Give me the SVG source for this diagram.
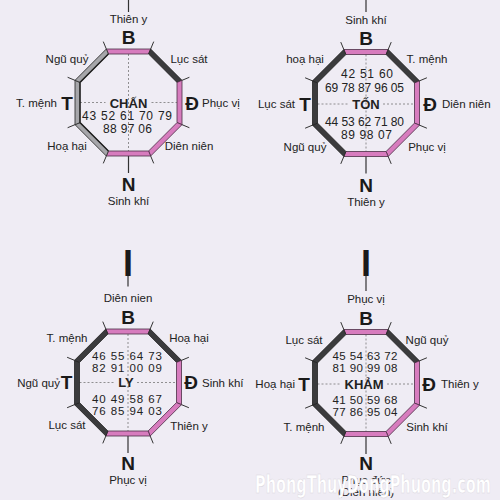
<svg xmlns="http://www.w3.org/2000/svg" xmlns:xlink="http://www.w3.org/1999/xlink" width="500" height="500" viewBox="0 0 500 500">
<style>
.bg{fill:#efecf4}
.pink{fill:#d77cbe;stroke:#4a2d45;stroke-width:0.8}
.blk{fill:#3b3b3d;stroke:#222;stroke-width:0.8}
.gray{fill:#a6a6aa;stroke:#333;stroke-width:0.9}
.tick{stroke:#333;stroke-width:1;fill:none}
.axis{stroke:#777;stroke-width:0.8;stroke-dasharray:2,2;fill:none}
.pole{stroke:#333;stroke-width:1.2;fill:none}
text{font-family:"Liberation Sans",Arial,sans-serif;fill:#222;text-anchor:middle;dominant-baseline:central}
.lbl{font-size:11.5px}
.end{text-anchor:end}
.start{text-anchor:start}
.dir{font-size:19px;font-weight:bold;fill:#1a1a1a}
.num{font-size:12px}
.num2{font-size:11.5px}
.name{font-size:13px;font-weight:bold}
.big{font-size:36px;font-weight:bold;fill:#1a1a1a}
.wm{font-size:24px;font-weight:bold;fill:#ffffff;stroke:#d8d4dc;stroke-width:0.5;font-family:"DejaVu Sans","Liberation Sans",sans-serif}
</style>
<defs>
<path id="eN" d="M-22.16,-53.5 L22.16,-53.5 L20.09,-48.5 L-20.09,-48.5 Z"/>
<path id="eNE" d="M22.16,-53.5 L53.5,-22.16 L48.5,-20.09 L20.09,-48.5 Z"/>
<path id="eE" d="M53.5,-22.16 L53.5,22.16 L48.5,20.09 L48.5,-20.09 Z"/>
<path id="eSE" d="M53.5,22.16 L22.16,53.5 L20.09,48.5 L48.5,20.09 Z"/>
<path id="eS" d="M22.16,53.5 L-22.16,53.5 L-20.09,48.5 L20.09,48.5 Z"/>
<path id="eSW" d="M-22.16,53.5 L-53.5,22.16 L-48.5,20.09 L-20.09,48.5 Z"/>
<path id="eW" d="M-53.5,22.16 L-53.5,-22.16 L-48.5,-20.09 L-48.5,20.09 Z"/>
<path id="eNW" d="M-53.5,-22.16 L-22.16,-53.5 L-20.09,-48.5 L-48.5,-20.09 Z"/>
<path id="ticks" d="M22.16,-53.5 L25.22,-60.89 M-22.16,-53.5 L-25.22,-60.89 M53.5,-22.16 L60.89,-25.22 M53.5,22.16 L60.89,25.22 M22.16,53.5 L25.22,60.89 M-22.16,53.5 L-25.22,60.89 M-53.5,22.16 L-60.89,25.22 M-53.5,-22.16 L-60.89,-25.22"/>
</defs>
<rect class="bg" x="0" y="0" width="500" height="500"/>

<g id="chan" transform="translate(128.5,102.5)">
  <g id="chan-axes">
    <line class="axis" x1="0" y1="-48.5" x2="0" y2="48.5"/>
    <line class="axis" x1="-48.5" y1="0" x2="-23" y2="0"/>
    <line class="axis" x1="23" y1="0" x2="48.5" y2="0"/>
    <line class="pole" x1="0" y1="-102.5" x2="0" y2="-90.5"/>
    <line class="pole" x1="0" y1="52.5" x2="0" y2="70.5"/>
  </g>
  <use xlink:href="#eN" class="pink"/>
  <use xlink:href="#eNE" class="blk"/>
  <use xlink:href="#eE" class="pink"/>
  <use xlink:href="#eSE" class="pink"/>
  <use xlink:href="#eS" class="pink"/>
  <use xlink:href="#eSW" class="gray"/>
  <use xlink:href="#eW" class="gray"/>
  <use xlink:href="#eNW" class="gray"/>
  <path class="tick" d="M-20.09,48.5 L-48.5,20.09 L-48.5,-20.09 L-20.09,-48.5" style="stroke-width:1.4;stroke:#222"/>
  <use xlink:href="#ticks" class="tick"/>
  <text class="lbl" x="0" y="-83.5">Thiên y</text>
  <text class="dir" x="0" y="-65.5">B</text>
  <text class="lbl" x="-61.5" y="-43.5">Ngũ quỷ</text>
  <text class="lbl" x="60.5" y="-43.5">Lục sát</text>
  <text class="lbl end" x="-71.5" y="0.5">T. mệnh</text>
  <text class="dir" x="-61.5" y="0.5">T</text>
  <text class="dir" x="63.5" y="0.5">Đ</text>
  <text class="lbl start" x="73.5" y="0.5">Phục vị</text>
  <text class="lbl" x="-61.5" y="43.5">Hoạ hại</text>
  <text class="lbl" x="60.5" y="43.5">Diên niên</text>
  <text class="dir" x="0" y="81.5">N</text>
  <text class="lbl" x="0" y="98.5">Sinh khí</text>
  <text class="name" x="0" y="0.5">CHẤN</text>
  <text class="num" x="-1.5" y="13.5" textLength="90">43 52 61 70 79</text>
  <text class="num" x="-1" y="26" textLength="49">88 97 06</text>
</g>

<g id="ton" transform="translate(366,103)">
  <g id="ton-axes">
    <line class="axis" x1="0" y1="-48.5" x2="0" y2="48.5"/>
    <line class="axis" x1="-48.5" y1="1" x2="-17" y2="1"/>
    <line class="axis" x1="17" y1="1" x2="48.5" y2="1"/>
    <line class="pole" x1="0" y1="-103" x2="0" y2="-91"/>
    <line class="pole" x1="0" y1="52.5" x2="0" y2="70.5"/>
  </g>
  <use xlink:href="#eN" class="pink"/>
  <use xlink:href="#eNE" class="blk"/>
  <use xlink:href="#eE" class="pink"/>
  <use xlink:href="#eSE" class="pink"/>
  <use xlink:href="#eS" class="pink"/>
  <use xlink:href="#eSW" class="blk"/>
  <use xlink:href="#eW" class="blk"/>
  <use xlink:href="#eNW" class="blk"/>
  <use xlink:href="#ticks" class="tick"/>
  <text class="lbl" x="0" y="-83">Sinh khí</text>
  <text class="dir" x="0" y="-65">B</text>
  <text class="lbl" x="-61" y="-44">hoạ hại</text>
  <text class="lbl" x="61" y="-44">T. mệnh</text>
  <text class="lbl end" x="-71" y="1">Lục sát</text>
  <text class="dir" x="-61" y="1">T</text>
  <text class="dir" x="64" y="1">Đ</text>
  <text class="lbl start" x="76" y="1">Diên niên</text>
  <text class="lbl" x="-61" y="44">Ngũ quỷ</text>
  <text class="lbl" x="61" y="44">Phục vị</text>
  <text class="dir" x="0" y="82">N</text>
  <text class="lbl" x="0" y="99">Thiên y</text>
  <text class="num" x="1" y="-29" textLength="52">42 51 60</text>
  <text class="num" x="-1.5" y="-15" textLength="79">69 78 87 96 05</text>
  <text class="name" x="0" y="1">TỐN</text>
  <text class="num" x="-1.5" y="19" textLength="79">44 53 62 71 80</text>
  <text class="num" x="0.5" y="32" textLength="51">89 98 07</text>
</g>

<g id="ly" transform="translate(128,382.5)">
  <g id="ly-axes">
    <line class="axis" x1="0" y1="-48.5" x2="0" y2="48.5"/>
    <line class="axis" x1="-48.5" y1="0" x2="-13" y2="0"/>
    <line class="axis" x1="9" y1="0" x2="48.5" y2="0"/>
    <line class="pole" x1="0" y1="-108" x2="0" y2="-96"/>
    <line class="pole" x1="0" y1="52.5" x2="0" y2="70.5"/>
  </g>
  <use xlink:href="#eN" class="pink"/>
  <use xlink:href="#eNE" class="blk"/>
  <use xlink:href="#eE" class="pink"/>
  <use xlink:href="#eSE" class="pink"/>
  <use xlink:href="#eS" class="pink"/>
  <use xlink:href="#eSW" class="blk"/>
  <use xlink:href="#eW" class="blk"/>
  <use xlink:href="#eNW" class="blk"/>
  <use xlink:href="#ticks" class="tick"/>
  <text class="big" x="0" y="-119">I</text>
  <text class="lbl" x="0" y="-84.5">Diên nien</text>
  <text class="dir" x="0" y="-65.5">B</text>
  <text class="lbl" x="-61" y="-44.5">T. mệnh</text>
  <text class="lbl" x="61" y="-44.5">Hoạ hại</text>
  <text class="lbl end" x="-68" y="0">Ngũ quỷ</text>
  <text class="dir" x="-61.5" y="0">T</text>
  <text class="dir" x="63" y="0">Đ</text>
  <text class="lbl start" x="74" y="0">Sinh khí</text>
  <text class="lbl" x="-61" y="42.5">Lục sát</text>
  <text class="lbl" x="61" y="43.5">Thiên y</text>
  <text class="dir" x="0" y="80.5">N</text>
  <text class="lbl" x="0" y="97.5">Phục vị</text>
  <text class="num2" x="-1" y="-26.5" textLength="70">46 55 64 73</text>
  <text class="num2" x="-1" y="-15" textLength="70">82 91 00 09</text>
  <text class="name" x="-2" y="0">LY</text>
  <text class="num2" x="-1" y="16.5" textLength="70">40 49 58 67</text>
  <text class="num2" x="-1" y="28.5" textLength="70">76 85 94 03</text>
</g>

<g id="kham" transform="translate(366,383)">
  <g id="kham-axes">
    <line class="axis" x1="0" y1="-48.5" x2="0" y2="48.5"/>
    <line class="axis" x1="-48.5" y1="1" x2="-25" y2="1"/>
    <line class="axis" x1="21" y1="1" x2="48.5" y2="1"/>
    <line class="pole" x1="0" y1="-107" x2="0" y2="-92"/>
    <line class="pole" x1="0" y1="53" x2="0" y2="71"/>
  </g>
  <use xlink:href="#eN" class="pink"/>
  <use xlink:href="#eNE" class="blk"/>
  <use xlink:href="#eE" class="pink"/>
  <use xlink:href="#eSE" class="pink"/>
  <use xlink:href="#eS" class="pink"/>
  <use xlink:href="#eSW" class="blk"/>
  <use xlink:href="#eW" class="blk"/>
  <use xlink:href="#eNW" class="blk"/>
  <use xlink:href="#ticks" class="tick"/>
  <text class="big" x="0" y="-120">I</text>
  <text class="lbl" x="0" y="-84">Phục vị</text>
  <text class="dir" x="0" y="-65">B</text>
  <text class="lbl" x="-62" y="-43">Lục sát</text>
  <text class="lbl" x="61" y="-43">Ngũ quỷ</text>
  <text class="lbl end" x="-71" y="1">Hoạ hại</text>
  <text class="dir" x="-62" y="1">T</text>
  <text class="dir" x="63" y="1">Đ</text>
  <text class="lbl start" x="75" y="1">Thiên y</text>
  <text class="lbl" x="-62" y="44">T. mệnh</text>
  <text class="lbl" x="61" y="44">Sinh khí</text>
  <text class="dir" x="0" y="80">N</text>
  <text class="lbl" x="0" y="97">Phục đức</text>
  <text class="lbl" x="0" y="109">(Diên niên)</text>
  <text class="num2" x="-1" y="-27" textLength="65">45 54 63 72</text>
  <text class="num2" x="-1" y="-15.5" textLength="65">81 90 99 08</text>
  <text class="name" x="-2" y="1">KHẢM</text>
  <text class="num2" x="-1" y="17" textLength="65">41 50 59 68</text>
  <text class="num2" x="-1" y="29" textLength="65">77 86 95 04</text>
</g>

<text class="wm" x="373" y="485" textLength="236" lengthAdjust="spacingAndGlyphs">PhongThuyDongPhuong.com</text>
</svg>
